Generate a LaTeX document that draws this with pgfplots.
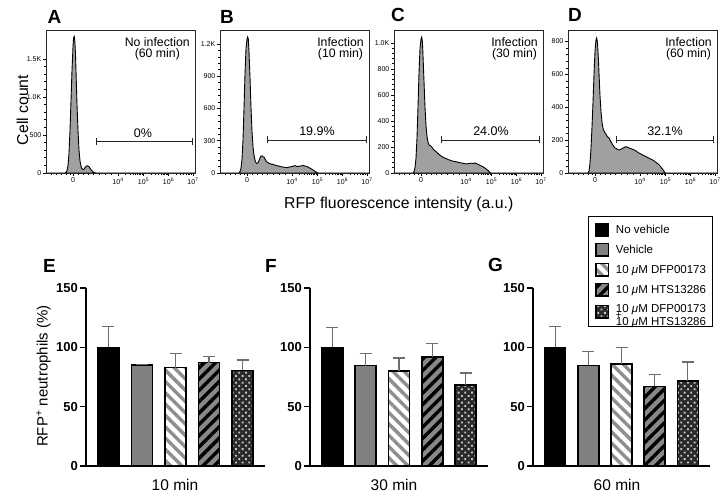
\documentclass[border=0pt]{standalone}
\usepackage{fontspec}
\setmainfont{Liberation Sans}
\usepackage{pgfplots}
\pgfplotsset{compat=1.18}
\usetikzlibrary{patterns.meta}
\definecolor{histfill}{HTML}{A0A0A0}
\definecolor{bargray}{HTML}{808080}
\definecolor{errgray}{HTML}{6E6E6E}
\definecolor{stripegray}{HTML}{8E8E8E}
\definecolor{midgray}{HTML}{888888}
\definecolor{checkdark}{HTML}{2A2A2A}
\definecolor{dotgray}{HTML}{C8C8C8}
\newcommand\lst{\rule[-3pt]{0pt}{11.7pt}}
\newcommand\um{10 \textit{μ}M}
\newcommand\gate[4]{%
  \draw[black!85, line width=0.9pt] (axis cs:#1,#3) -- (axis cs:#2,#3);
  \draw[black!85, line width=0.9pt] ([yshift=-3.5pt]axis cs:#1,#3) -- ([yshift=3.5pt]axis cs:#1,#3);
  \draw[black!85, line width=0.9pt] ([yshift=-3.5pt]axis cs:#2,#3) -- ([yshift=3.5pt]axis cs:#2,#3);
  \node[anchor=base, inner sep=0pt, font=\fontsize{12.5}{14}\selectfont] at ([yshift=4.5pt]axis cs:70,#3) {#4};
}
\newcommand\ann[1]{%
  \node[anchor=north east, align=center, inner sep=0pt, font=\fontsize{12.3}{11.6}\selectfont] at ([xshift=-5pt,yshift=-7pt]rel axis cs:1,1) {#1};
}
\pgfplotsset{
  hist/.style={
    scale only axis, width=149pt, height=143pt,
    xmin=-27, xmax=122, ymin=0,
    axis line style={black!85, line width=0.7pt},
    tick pos=left, tick align=outside,
    major tick length=3pt, minor tick length=1.7pt,
    tick style={black, line width=0.6pt},
    xtick={0,45,70.5,95.5,120},
    xticklabels={0,10\textsuperscript{4},10\textsuperscript{5},10\textsuperscript{6},10\textsuperscript{7}},
    minor xtick={-22,-17,-12,-7,-3,5,10,15,20,26,32,38,52.5,56.9,60.1,62.5,64.5,66.1,67.6,68.9,78,82.4,85.6,88,90,91.6,93.1,94.4,103,107.4,110.6,113,115,116.6,118.1},
    minor y tick num=4,
    ticklabel style={font=\fontsize{7}{8}\selectfont, inner sep=1.5pt},
  },
  histplot/.style={draw=black, line width=0.9pt, fill=histfill},
  barax/.style={
    scale only axis, height=178pt,
    ymin=0, ymax=150, xmin=-0.67, xmax=4.67,
    axis x line*=bottom, axis y line*=left,
    axis line style={black, line width=1.5pt},
    xtick=\empty, ytick={0,50,100,150}, yticklabels={0,50,100,150},
    tick align=outside, major tick length=6pt,
    tick style={black, line width=1.5pt},
    yticklabel style={font=\bfseries\fontsize{13}{15}\selectfont, inner sep=2pt},
    clip=false,
    error bars/y dir=plus, error bars/y explicit,
    error bars/error bar style={draw=errgray, line width=1.2pt},
    error bars/error mark options={rotate=90, draw=errgray, line width=1.2pt, mark size=6pt},
  },
  bb/.style={ybar, bar width=21pt, bar shift=0pt, draw=black, line width=1.5pt,
    legend image code/.code={\draw[##1] (0pt,-6.3pt) rectangle (12.6pt,6.3pt); \path (19.3pt,0pt);}},
  b1/.style={bb, fill=black},
  b2/.style={bb, fill=bargray},
  b3/.style={bb, preaction={fill=white}, pattern={Lines[angle=-45,distance=8pt,line width=3.4pt]}, pattern color=stripegray},
  b4/.style={bb, preaction={fill=midgray}, pattern={Lines[angle=45,distance=8pt,line width=3.4pt]}, pattern color=black},
  b5/.style={bb, preaction={fill=checkdark}, pattern={Dots[radius=1.3pt,distance=4.7pt,angle=45]}, pattern color=dotgray},
}
\begin{document}
\begin{tikzpicture}
\path[use as bounding box] (0pt,0pt) rectangle (726pt,499pt);
% ---------- A ----------
\begin{axis}[hist, at={(46pt,326pt)}, anchor=south west, ymax=1880,
  ytick={0,500,1000,1500}, yticklabels={0,500,1.0K,1.5K}]
\addplot[histplot] coordinates {(-27,0) (-8,0) (-7,8) (-6,30) (-5,100) (-4,260) (-3,560) (-2,950) (-1,1350) (0,1660) (0.6,1780) (1.2,1795) (1.8,1740) (2.5,1560) (3.2,1250) (4,900) (5,560) (6,300) (7,160) (8,90) (9,55) (10,45) (11,52) (12,70) (13,85) (14,95) (15,92) (16,82) (17,62) (18,42) (19,28) (20,16) (21,8) (22,3) (23,0) (122,0)} \closedcycle;
\gate{23.7}{119.3}{412}{0\%}
\ann{No infection\\(60 min)}
\end{axis}
% ---------- B ----------
\begin{axis}[hist, at={(220pt,326pt)}, anchor=south west, ymax=1330,
  ytick={0,300,600,900,1200}, yticklabels={0,300,600,900,1.2K}]
\addplot[histplot] coordinates {(-27,0) (-8,0) (-7,12) (-6,45) (-5,130) (-4,310) (-3,600) (-2,920) (-1,1160) (0,1245) (0.7,1265) (1.3,1245) (2,1130) (3,890) (4,610) (5,390) (6,245) (7,165) (8,118) (9,95) (10,88) (11,96) (12,115) (13,140) (14,156) (15,160) (16,150) (17,148) (18,130) (19,112) (20,102) (21,96) (22,90) (23,86) (24,84) (25,80) (26,83) (27,76) (28,73) (30,68) (32,64) (34,58) (36,56) (38,52) (40,50) (42,55) (44,58) (46,63) (48,68) (50,61) (52,62) (54,66) (56,69) (58,65) (60,60) (62,50) (64,40) (66,28) (68,15) (70,5) (71,0) (122,0)} \closedcycle;
\gate{20.7}{119.7}{307}{19.9\%}
\ann{Infection\\(10 min)}
\end{axis}
% ---------- C ----------
\begin{axis}[hist, at={(394pt,326pt)}, anchor=south west, ymax=1100,
  ytick={0,200,400,600,800,1000}, yticklabels={0,200,400,600,800,1.0K}]
\addplot[histplot] coordinates {(-27,0) (-8,0) (-7,10) (-6,40) (-5,115) (-4,270) (-3,510) (-2,770) (-1,955) (0,1030) (0.7,1045) (1.4,1010) (2,905) (3,705) (4,505) (5,365) (6,282) (7,238) (8,216) (9,212) (10,206) (11,198) (12,186) (13,176) (14,171) (15,164) (16,158) (17,151) (18,143) (19,138) (20,131) (22,121) (24,114) (26,108) (28,101) (30,96) (32,91) (34,88) (36,85) (38,80) (40,78) (42,75) (44,72) (46,70) (48,73) (50,76) (52,73) (54,77) (56,71) (58,63) (60,55) (62,48) (64,38) (66,25) (68,12) (69,5) (70,0) (122,0)} \closedcycle;
\gate{20.7}{118.3}{254}{24.0\%}
\ann{Infection\\(30 min)}
\end{axis}
% ---------- D ----------
\begin{axis}[hist, at={(568pt,326pt)}, anchor=south west, ymax=870,
  ytick={0,200,400,600,800}, yticklabels={0,200,400,600,800}]
\addplot[histplot] coordinates {(-27,0) (-7,0) (-6,10) (-5,60) (-4,150) (-3,280) (-2,430) (-1,600) (0,740) (1,810) (1.7,822) (2.5,790) (3.5,680) (4.3,567) (5,470) (6,374) (7,310) (7.7,282) (8.5,262) (9.5,250) (10.3,242) (11,236) (12,225) (13,218) (14.3,211) (15,200) (16,190) (17,178) (17.7,171) (19,160) (20,152) (21,150) (22,145) (23,142) (24.3,140) (26,145) (28,152) (30,158) (31,160) (33,155) (35,150) (37.7,144) (40,138) (42,130) (44.3,120) (47,112) (49,105) (51,100) (54,90) (57.7,79) (60,70) (62,60) (64.3,49) (66,35) (68,20) (69,10) (70.3,0) (122,0)} \closedcycle;
\gate{21}{118.7}{201}{32.1\%}
\ann{Infection\\(60 min)}
\end{axis}
% ---------- E ----------
\begin{axis}[barax, at={(86pt,33pt)}, anchor=south west, width=179pt]
\addplot[b1] coordinates {(0,100) +- (0,17.4)};
\addplot[b2] coordinates {(1,85) +- (0,0.6)};
\addplot[b3] coordinates {(2,83) +- (0,11.6)};
\addplot[b4] coordinates {(3,87.2) +- (0,5.1)};
\addplot[b5] coordinates {(4,80.5) +- (0,8.8)};
\end{axis}
% ---------- F ----------
\begin{axis}[barax, at={(310pt,33pt)}, anchor=south west, width=178pt]
\addplot[b1] coordinates {(0,100) +- (0,17)};
\addplot[b2] coordinates {(1,84.5) +- (0,10.1)};
\addplot[b3] coordinates {(2,80.2) +- (0,10.8)};
\addplot[b4] coordinates {(3,91.8) +- (0,11.2)};
\addplot[b5] coordinates {(4,68.4) +- (0,9.9)};
\end{axis}
% ---------- G ----------
\begin{axis}[barax, at={(533pt,33pt)}, anchor=south west, width=177pt,
  legend style={at={(1.017,1.404)}, anchor=north east, draw=black, line width=1pt,
    font=\fontsize{11.5}{13}\selectfont, inner xsep=6.5pt, inner ysep=6pt,
    row sep=6pt, nodes={inner sep=0pt}},
  legend cell align=left]
\addplot[b1] coordinates {(0,100) +- (0,17.6)};
\addlegendentry{\lst No vehicle}
\addplot[b2] coordinates {(1,84.7) +- (0,11.8)};
\addlegendentry{\lst Vehicle}
\addplot[b3] coordinates {(2,85.9) +- (0,14.1)};
\addlegendentry{\lst\um{} DFP00173}
\addplot[b4] coordinates {(3,67) +- (0,10.4)};
\addlegendentry{\lst\um{} HTS13286}
\addplot[b5] coordinates {(4,71.8) +- (0,15.8)};
\addlegendentry{\begin{tabular}{@{}l@{}}\um{} DFP00173\\\rlap{\raisebox{6.5pt}[0pt][0pt]{\fontsize{10}{10}\selectfont +}}\um{} HTS13286\end{tabular}}
\end{axis}
% ---------- texts ----------
\begin{scope}[every node/.style={inner sep=0pt}]
\node[anchor=north west, font=\bfseries\fontsize{19}{22}\selectfont] at (47.5pt,489pt) {A};
\node[anchor=north west, font=\bfseries\fontsize{19}{22}\selectfont] at (220pt,489pt) {B};
\node[anchor=north west, font=\bfseries\fontsize{19}{22}\selectfont] at (391pt,491pt) {C};
\node[anchor=north west, font=\bfseries\fontsize{19}{22}\selectfont] at (568pt,491pt) {D};
\node[anchor=north west, font=\bfseries\fontsize{19}{22}\selectfont] at (43pt,240pt) {E};
\node[anchor=north west, font=\bfseries\fontsize{19}{22}\selectfont] at (265pt,240pt) {F};
\node[anchor=north west, font=\bfseries\fontsize{19}{22}\selectfont] at (488pt,241pt) {G};
\node[rotate=90, anchor=base, font=\fontsize{15.8}{18}\selectfont] at (28pt,389pt) {Cell count};
\node[anchor=base, font=\fontsize{15.8}{18}\selectfont] at (398.7pt,290.7pt) {RFP fluorescence intensity (a.u.)};
\node[rotate=90, anchor=base, font=\fontsize{15}{18}\selectfont] at (47.5pt,123pt) {RFP\textsuperscript{+} neutrophils (\%)};
\node[anchor=base, font=\fontsize{15.5}{18}\selectfont] at (175pt,9pt) {10 min};
\node[anchor=base, font=\fontsize{15.5}{18}\selectfont] at (394pt,9pt) {30 min};
\node[anchor=base, font=\fontsize{15.5}{18}\selectfont] at (617pt,9pt) {60 min};
\end{scope}
\end{tikzpicture}
\end{document}
